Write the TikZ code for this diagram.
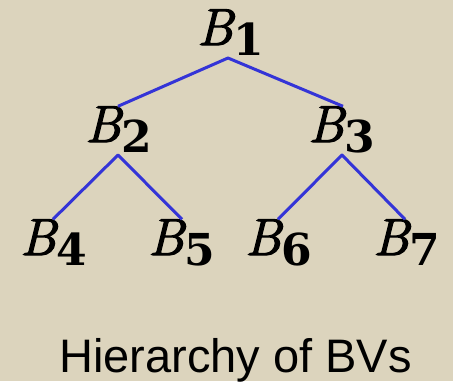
\documentclass[tikz,border=0pt]{standalone}
\usepackage{fontspec}
\usetikzlibrary{calc}
\newfontfamily\titlefont{Liberation Sans}
\newfontfamily\subfont{DejaVu Serif}
\newfontfamily\bfont[FakeBold=2.5]{Latin Modern Roman}
\definecolor{bg}{RGB}{220,212,189}
\definecolor{edgeblue}{RGB}{52,52,215}
\newcommand{\bvlabel}[1]{\bfont\itshape B\kern1pt\raisebox{-10pt}{\subfont\upshape\bfseries\fontsize{44}{50}\selectfont #1}}
\begin{document}
\begin{tikzpicture}[x=1pt,y=-1pt,
  bvnode/.style={anchor=base west, inner sep=0pt, font=\fontsize{52}{60}\selectfont},
  tree/.style={draw=edgeblue, line width=3pt, line join=round},
  titletext/.style={anchor=base, inner sep=0pt, font=\titlefont\fontsize{47}{56}\selectfont}]
\fill[bg] (0,0) rectangle (453,381);
\useasboundingbox (0,0) rectangle (453,381);
\node[bvnode] (b1) at (197,45) {\bvlabel{1}};
\node[bvnode] (b2) at (85,142) {\bvlabel{2}};
\node[bvnode] (b3) at (308,142) {\bvlabel{3}};
\node[bvnode] (b4) at (20,255) {\bvlabel{4}};
\node[bvnode] (b5) at (148,255) {\bvlabel{5}};
\node[bvnode] (b6) at (245,255) {\bvlabel{6}};
\node[bvnode] (b7) at (373,255) {\bvlabel{7}};
\draw[tree] ($(b2.north west)+(33,0)$) -- ($(b1.base west)+(31,13)$) -- ($(b3.north west)+(35,0)$);
\draw[tree] ($(b4.north west)+(33,0)$) -- ($(b2.base west)+(33,13)$) -- ($(b5.north west)+(34,0)$);
\draw[tree] ($(b6.north west)+(33,0)$) -- ($(b3.base west)+(34,13)$) -- ($(b7.north west)+(32,0)$);
\node[titletext] (title) at (235.5,372) {Hierarchy of BVs};
\end{tikzpicture}
\end{document}
